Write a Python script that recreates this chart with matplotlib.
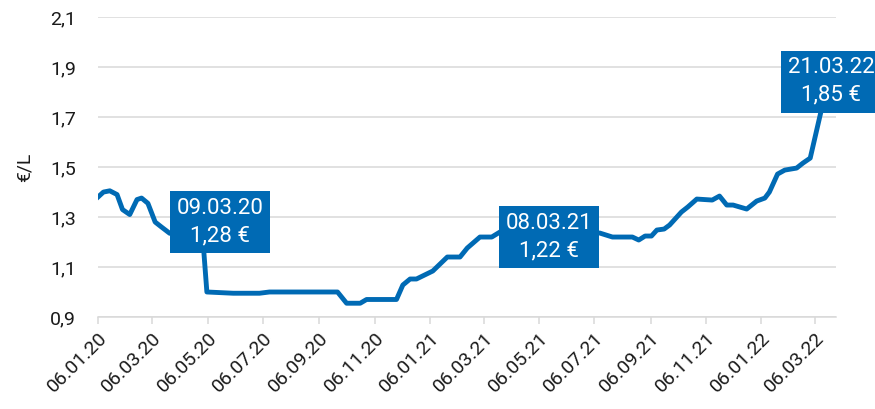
import numpy as np
import pandas as pd
import matplotlib
matplotlib.use('Agg')
import matplotlib.pyplot as plt
import matplotlib.dates as mdates
from matplotlib.ticker import FuncFormatter

plt.rcParams['font.family'] = ['Roboto', 'DejaVu Sans']

# Preisverlauf (€/L)
datum = ['2020-01-06', '2020-01-12', '2020-01-19', '2020-01-27', '2020-02-02',
         '2020-02-10', '2020-02-18', '2020-02-23', '2020-03-01', '2020-03-09',
         '2020-03-16', '2020-03-25', '2020-04-06', '2020-04-20', '2020-04-30',
         '2020-05-05', '2020-06-03', '2020-07-02', '2020-07-13', '2020-09-26',
         '2020-10-06', '2020-10-21', '2020-10-28', '2020-11-30', '2020-12-07',
         '2020-12-15', '2020-12-22', '2021-01-09', '2021-01-25', '2021-02-08',
         '2021-02-16', '2021-03-02', '2021-03-08', '2021-03-15', '2021-03-24',
         '2021-04-15', '2021-05-15', '2021-07-12', '2021-07-26', '2021-08-17',
         '2021-08-24', '2021-08-31', '2021-09-07', '2021-09-13', '2021-09-21',
         '2021-09-27', '2021-10-10', '2021-10-17', '2021-10-27', '2021-11-13',
         '2021-11-21', '2021-11-29', '2021-12-06', '2021-12-21', '2022-01-01',
         '2022-01-10', '2022-01-15', '2022-01-24', '2022-02-01', '2022-02-14',
         '2022-02-21', '2022-03-01', '2022-03-21']
preis = [1.38, 1.40, 1.405, 1.39, 1.33,
         1.31, 1.37, 1.376, 1.355, 1.28,
         1.26, 1.235, 1.24, 1.24, 1.24,
         1.00, 0.995, 0.995, 1.00, 1.00,
         0.955, 0.955, 0.97, 0.97, 1.028,
         1.052, 1.052, 1.084, 1.14, 1.14,
         1.176, 1.22, 1.22, 1.22, 1.24,
         1.245, 1.235, 1.236, 1.22, 1.22,
         1.208, 1.224, 1.224, 1.248, 1.252,
         1.268, 1.32, 1.34, 1.372, 1.368,
         1.384, 1.348, 1.348, 1.332, 1.364,
         1.376, 1.40, 1.472, 1.488, 1.496,
         1.516, 1.536, 1.85]

# Markierte Punkte
mark_datum = ['2020-03-09', '2021-03-08', '2022-03-21']
mark_preis = [1.28, 1.22, 1.85]
mark_offset = [(65, 0), (64, 0), (3, -2)]

tick_datum = pd.date_range('2020-01-01', '2022-03-01', freq='2MS') + pd.Timedelta(days=5)

blau = '#006AB4'
grau = '#d9d9d9'

x = pd.to_datetime(datum)

fig = plt.figure(figsize=(8.75, 4.09), dpi=100)
ax = fig.add_axes([0.112, 0.225, 0.843, 0.733])

ax.plot(x, preis, color=blau, lw=3.5, solid_joinstyle='round', zorder=3)

ax.set_ylim(0.9, 2.1)
ax.set_yticks(np.arange(0.9, 2.11, 0.2))
ax.yaxis.set_major_formatter(FuncFormatter(lambda v, p: f'{v:.1f}'.replace('.', ',')))
ax.set_xlim(pd.Timestamp('2020-01-06'), pd.Timestamp('2022-03-29'))
ax.set_xticks(tick_datum)
ax.xaxis.set_major_formatter(mdates.DateFormatter('%d.%m.%y'))

ax.grid(axis='y', color=grau, lw=1.1)
ax.set_axisbelow(True)
for s in ['top', 'right', 'left']:
    ax.spines[s].set_visible(False)
ax.spines['bottom'].set_color(grau)
ax.spines['bottom'].set_linewidth(1.1)

ax.tick_params(axis='y', length=0, pad=16, labelsize=14, labelcolor='#1a1a1a')
ax.tick_params(axis='x', length=5, width=1.1, color=grau, pad=4, labelsize=14, labelcolor='#1a1a1a')
for lab in ax.get_xticklabels():
    lab.set_rotation(45)
    lab.set_ha('right')
    lab.set_va('top')
    lab.set_rotation_mode('anchor')

ax.set_ylabel('€/L', fontsize=14, color='#1a1a1a')
ax.yaxis.set_label_coords(-0.088, 0.5)

for d, p, off in zip(mark_datum, mark_preis, mark_offset):
    txt = pd.Timestamp(d).strftime('%d.%m.%y') + '\n' + f'{p:.2f}'.replace('.', ',') + ' €'
    ax.annotate(txt, xy=(pd.Timestamp(d), p), xytext=off, textcoords='offset pixels',
                ha='center', va='center', multialignment='center', color='white',
                fontsize=16, linespacing=1.4, zorder=5, annotation_clip=False,
                bbox=dict(boxstyle='square,pad=0.3', fc=blau, ec='none'))

fig.savefig('out.png', dpi=100)
